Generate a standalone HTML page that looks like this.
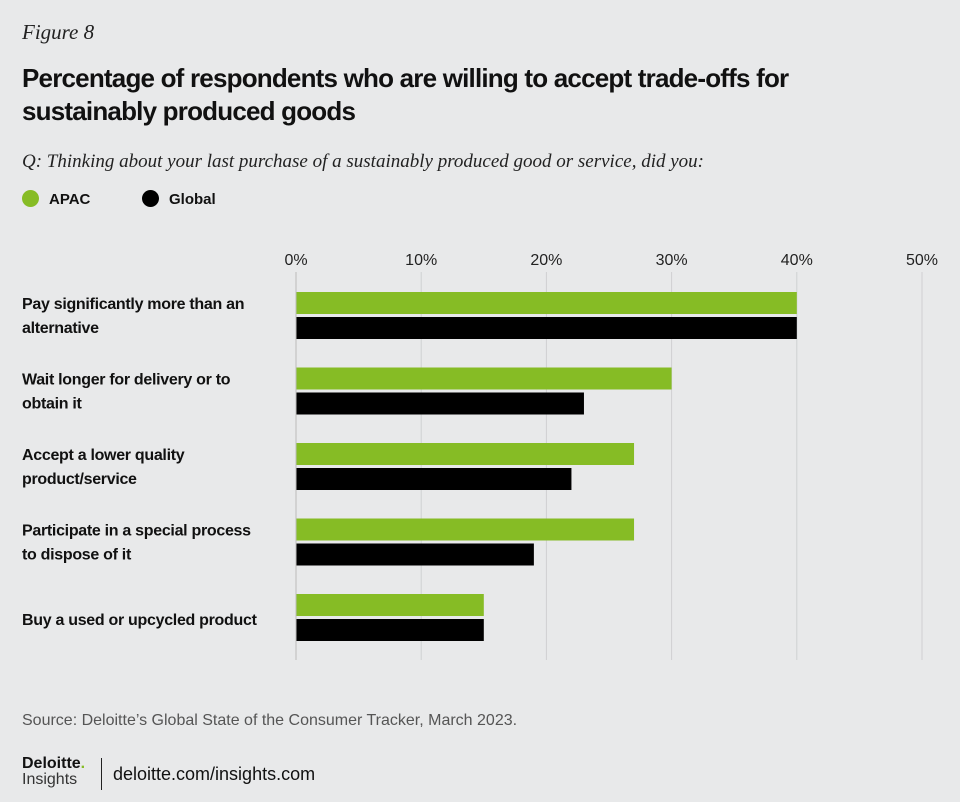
<!DOCTYPE html>
<html><head><meta charset="utf-8"><style>
body{margin:0;width:960px;height:802px;background:#e8e9ea;font-family:"Liberation Sans",sans-serif;position:relative;overflow:hidden;color:#111}
.abs{position:absolute}
</style></head><body>
<div class="abs" style="left:22px;top:20px;font-family:'Liberation Serif',serif;font-style:italic;font-size:21px;color:#222">Figure 8</div>
<div class="abs" style="left:22px;top:62px;font-size:26px;font-weight:bold;line-height:33px;letter-spacing:-0.8px;width:900px">Percentage of respondents who are willing to accept trade-offs for sustainably produced goods</div>
<div class="abs" style="left:22px;top:151px;font-family:'Liberation Serif',serif;font-style:italic;font-size:19px;color:#222">Q: Thinking about your last purchase of a sustainably produced good or service, did you:</div>
<div class="abs" style="left:22px;top:190px;font-size:15px;font-weight:bold"><span style="display:inline-block;width:17px;height:17px;border-radius:50%;background:#86bc25;vertical-align:-3px;margin-right:10px"></span>APAC</div>
<div class="abs" style="left:142px;top:190px;font-size:15px;font-weight:bold"><span style="display:inline-block;width:17px;height:17px;border-radius:50%;background:#000;vertical-align:-3px;margin-right:10px"></span>Global</div>
<svg class="abs" style="left:0;top:0" width="960" height="802" id="chart"></svg>
<div class="abs" style="left:22px;top:712px;font-size:16px;color:#555">Source: Deloitte’s Global State of the Consumer Tracker, March 2023.</div>
<div class="abs" style="left:22px;top:756px;line-height:16px"><div style="font-size:16px;font-weight:bold">Deloitte<span style="color:#86bc25">.</span></div><div style="font-size:16px;color:#333">Insights</div></div>
<div class="abs" style="left:101px;top:758px;width:1px;height:32px;background:#222"></div>
<div class="abs" style="left:113px;top:764px;font-size:18px">deloitte.com/insights.com</div>
<script>
const categories=[["Pay significantly more than an","alternative"],["Wait longer for delivery or to","obtain it"],["Accept a lower quality","product/service"],["Participate in a special process","to dispose of it"],["Buy a used or upcycled product"]];
const apac=[40,30,27,27,15];
const global=[40,23,22,19,15];
const ticks=[0,10,20,30,40,50];
const tickLabels=["0%","10%","20%","30%","40%","50%"];
const svg=document.getElementById('chart');const NS="http://www.w3.org/2000/svg";
const x=v=>296+v*12.52;
const gy=i=>292+i*75.5;
function mk(t,a){const e=document.createElementNS(NS,t);for(const k in a)e.setAttribute(k,a[k]);svg.appendChild(e);return e;}
ticks.forEach((t,i)=>{
const l=mk('line',{x1:x(t),x2:x(t),y1:272,y2:660,stroke:'#cfd0d2','stroke-width':1});


const tx=mk('text',{x:x(t),y:265,'text-anchor':'middle','font-size':16,fill:'#222','font-family':'Liberation Sans'});
tx.textContent=tickLabels[i];


});
categories.forEach((c,i)=>{
const y=gy(i);
const a=mk('rect',{x:x(0),y:y,width:x(apac[i])-x(0),height:22,fill:'#86bc25'});


const g=mk('rect',{x:x(0),y:y+25,width:x(global[i])-x(0),height:22,fill:'#000'});


const ly=c.length==1?y+31:y+17;
c.forEach((s,j)=>{const t=mk('text',{x:22,y:ly+j*24,'font-size':16,'font-weight':'bold',fill:'#111','font-family':'Liberation Sans','letter-spacing':'-0.3'});t.textContent=s;

});
});
mk('line',{x1:x(0),x2:x(0),y1:272,y2:660,stroke:'#bbb'});
</script>
</body></html>
